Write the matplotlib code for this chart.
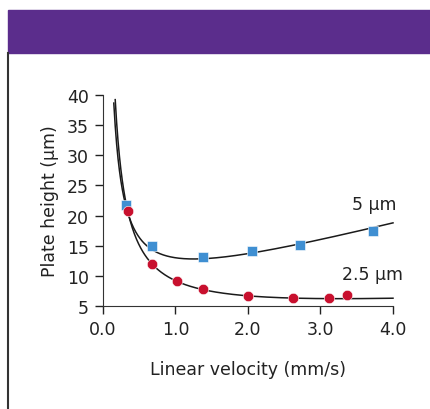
import matplotlib.pyplot as plt
import numpy as np
from matplotlib.patches import Rectangle
from matplotlib.lines import Line2D

# measured points
u_5um = [0.32, 0.68, 1.38, 2.05, 2.72, 3.72]
h_5um = [21.8, 15.0, 13.1, 14.1, 15.2, 17.5]
u_25um = [0.34, 0.68, 1.02, 1.38, 2.0, 2.62, 3.12, 3.37]
h_25um = [20.8, 12.0, 9.2, 7.9, 6.7, 6.3, 6.3, 6.8]

# van Deemter fit parameters (A, B, C)
abc_5um = (4.87, 4.96, 3.17)
abc_25um = (2.44, 6.18, 0.577)

xticks = [0.0, 1.0, 2.0, 3.0, 4.0]
yticks = [5, 10, 15, 20, 25, 30, 35, 40]

blue = '#3f8fd2'
red = '#c8102e'
purple = '#5b2d8c'
fs = 12.5


def vandeemter(u, p):
    a, b, c = p
    return a + b / u + c * u


fig = plt.figure(figsize=(4.31, 4.10), dpi=100)
fig.patches.append(Rectangle((8 / 431, 1 - 54 / 410), 1, 43 / 410,
                             transform=fig.transFigure, color=purple, zorder=0))
fig.lines.append(Line2D([8.5 / 431, 8.5 / 431], [0, 1 - 54 / 410],
                        transform=fig.transFigure, color='#333333', lw=1.5))

ax = fig.add_axes([103 / 431, 103 / 410, 290 / 431, 211 / 410])

for p in (abc_5um, abc_25um):
    u = np.linspace(0.1, 4.0, 400)
    h = vandeemter(u, p)
    keep = h <= 40.6
    ax.plot(u[keep], h[keep], color='#1a1a1a', lw=1.1, clip_on=False, zorder=2)

ax.plot(u_5um, h_5um, 's', color=blue, ms=7.5, mec='white', mew=0.4, clip_on=False, zorder=3)
ax.plot(u_25um, h_25um, 'o', color=red, ms=7.5, mec='white', mew=0.4, clip_on=False, zorder=3)

ax.text(3.43, 21.9, '5 μm', fontsize=fs, color='#222222', va='center', ha='left')
ax.text(3.30, 10.3, '2.5 μm', fontsize=fs, color='#222222', va='center', ha='left')

ax.set_xlim(0, 4.0)
ax.set_ylim(5, 40)
ax.set_xticks(xticks)
ax.set_xticklabels(['%.1f' % t for t in xticks])
ax.set_yticks(yticks)
ax.tick_params(labelsize=fs, colors='#222222', length=6, width=1, pad=4)
ax.spines['top'].set_visible(False)
ax.spines['right'].set_visible(False)
ax.spines['left'].set_color('#333333')
ax.spines['bottom'].set_color('#333333')
ax.set_xlabel('Linear velocity (mm/s)', fontsize=fs, color='#222222', labelpad=16)
ax.set_ylabel('Plate height (μm)', fontsize=fs, color='#222222', labelpad=6)

fig.savefig('out.png', dpi=100)
